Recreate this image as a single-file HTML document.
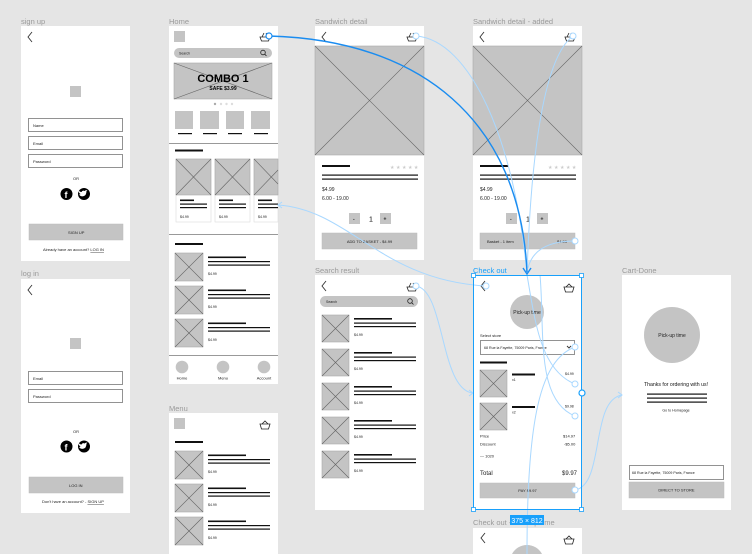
<!DOCTYPE html>
<html><head><meta charset="utf-8"><style>
html,body{margin:0;padding:0;background:#e5e5e5;width:752px;height:554px;overflow:hidden;}
svg{display:block;font-family:"Liberation Sans",sans-serif;}
.lbl{font-size:7.5px;fill:#9a9a9a}
.t{font-size:4px;fill:#222}
.t5{font-size:5px;fill:#222}
.ph{fill:#c4c4c4;stroke:#aaa;stroke-width:.6}
.xl{stroke:#666;stroke-width:.6}
.bar{fill:#111}
.in{fill:#fff;stroke:#777;stroke-width:.8}
.btn{fill:#c4c4c4;stroke:#bbb;stroke-width:.5}
.ch{fill:none;stroke:#333;stroke-width:.9}
.bk{fill:none;stroke:#222;stroke-width:.8}
.lc{fill:none;stroke:#a9d8ff;stroke-width:1}
.hc{fill:#fff;stroke:#a9d8ff;stroke-width:1}
</style></head><body>
<svg width="752" height="554" viewBox="0 0 752 554" xmlns="http://www.w3.org/2000/svg">
<rect width="752" height="554" fill="#e5e5e5"/>

<text class="lbl" x="21" y="24">sign up</text>
<text class="lbl" x="169" y="24">Home</text>
<text class="lbl" x="315" y="24">Sandwich detail</text>
<text class="lbl" x="473" y="24">Sandwich detail - added</text>
<text class="lbl" x="21" y="276">log in</text>
<text class="lbl" x="169" y="411">Menu</text>
<text class="lbl" x="315" y="273">Search result</text>
<text x="473" y="273" style="font-size:7.5px;fill:#18a0fb">Check out</text>
<text class="lbl" x="622" y="273">Cart-Done</text>
<text class="lbl" x="473" y="525">Check out - Pick-up time</text>

<!-- SIGN UP -->
<rect x="21" y="26" width="109" height="235" fill="#fff"/>
<polyline class="ch" points="32,32 28,37 32,42"/>
<rect x="70" y="86" width="11" height="11" fill="#c4c4c4"/>
<rect class="in" x="28.5" y="118.5" width="94" height="13"/><text class="t" x="33" y="127">Name</text>
<rect class="in" x="28.5" y="136.5" width="94" height="13"/><text class="t" x="33" y="145">Email</text>
<rect class="in" x="28.5" y="154.5" width="94" height="13"/><text class="t" x="33" y="163">Password</text>
<text class="t" x="73" y="180">OR</text>
<circle cx="66.5" cy="194" r="6" fill="#000"/><text x="64.5" y="198" style="font-size:9px;fill:#fff;font-weight:bold">f</text>
<circle cx="84" cy="194" r="6" fill="#000"/><path d="M80.5,196 q3,1 5,-1 q1,-2 1,-4 l1,-1 q-2,0 -3,1 q-2,-1 -3,1 q-2,0 -3,-2 q0,3 2,4 q-1,1 -2,0z" fill="#fff"/>
<rect class="btn" x="29" y="224" width="94" height="16"/><text class="t" x="68" y="234">SIGN UP</text>
<text class="t" x="43" y="251">Already have an account? <tspan text-decoration="underline">LOG IN</tspan></text>

<!-- LOG IN -->
<rect x="21" y="279" width="109" height="234" fill="#fff"/>
<polyline class="ch" points="32,285 28,290 32,295"/>
<rect x="70" y="338" width="11" height="11" fill="#c4c4c4"/>
<rect class="in" x="28.5" y="371.5" width="94" height="13"/><text class="t" x="33" y="380">Email</text>
<rect class="in" x="28.5" y="389.5" width="94" height="13"/><text class="t" x="33" y="398">Password</text>
<text class="t" x="73" y="433">OR</text>
<circle cx="66.5" cy="446.5" r="6" fill="#000"/><text x="64.5" y="450.5" style="font-size:9px;fill:#fff;font-weight:bold">f</text>
<circle cx="84" cy="446.5" r="6" fill="#000"/><path d="M80.5,448.5 q3,1 5,-1 q1,-2 1,-4 l1,-1 q-2,0 -3,1 q-2,-1 -3,1 q-2,0 -3,-2 q0,3 2,4 q-1,1 -2,0z" fill="#fff"/>
<rect class="btn" x="29" y="477" width="94" height="16"/><text class="t" x="69" y="487">LOG IN</text>
<text class="t" x="42" y="503">Don't have an account? - <tspan text-decoration="underline">SIGN UP</tspan></text>

<!-- HOME -->
<rect x="169" y="26" width="109" height="358" fill="#fff"/>
<rect x="174" y="31" width="11" height="11" fill="#c4c4c4"/>
<path class="bk" d="M260,37 h10 l-1.5,4 h-7z M262,37 l2,-4 M268,37 l-2,-4"/>
<rect x="174" y="48" width="98" height="10" rx="5" fill="#c4c4c4"/><text class="t" x="179" y="54.5" style="font-size:3.5px">Search</text>
<circle cx="263" cy="52.5" r="2.3" fill="none" stroke="#222" stroke-width=".8"/><line x1="264.7" y1="54.2" x2="266.5" y2="56" stroke="#222" stroke-width=".8"/>
<rect class="ph" x="174" y="63" width="98" height="36"/><line class="xl" x1="174" y1="63" x2="272" y2="99"/><line class="xl" x1="272" y1="63" x2="174" y2="99"/>
<text x="223" y="82" text-anchor="middle" style="font-size:11px;font-weight:bold;fill:#000">COMBO 1</text>
<text x="223" y="90" text-anchor="middle" style="font-size:5px;font-weight:bold;fill:#000">SAFE $3.99</text>
<circle cx="215" cy="104" r="1.2" fill="#aaa"/><circle cx="221" cy="104" r="1.2" fill="#ddd"/><circle cx="226.5" cy="104" r="1.2" fill="#ddd"/><circle cx="232" cy="104" r="1.2" fill="#ddd"/>
<rect x="175" y="111" width="18" height="18" fill="#c4c4c4"/><rect x="200" y="111" width="19" height="18" fill="#c4c4c4"/><rect x="226" y="111" width="18" height="18" fill="#c4c4c4"/><rect x="251" y="111" width="19" height="18" fill="#c4c4c4"/>
<rect class="bar" x="178" y="133" width="14" height="1.2"/><rect class="bar" x="203" y="133" width="14" height="1.2"/><rect class="bar" x="228" y="133" width="14" height="1.2"/><rect class="bar" x="254" y="133" width="14" height="1.2"/>
<rect x="169" y="143" width="109" height="1" fill="#999"/>
<rect class="bar" x="175" y="149.5" width="28" height="2"/>
<rect x="176" y="159" width="35" height="63" fill="#fff" stroke="#ddd" stroke-width=".6"/><rect class="ph" x="176" y="159" width="35" height="36"/><line class="xl" x1="176" y1="159" x2="211" y2="195"/><line class="xl" x1="211" y1="159" x2="176" y2="195"/>
<rect class="bar" x="180" y="199.5" width="14" height="1.6"/><rect class="bar" x="180" y="203.5" width="27" height="1.2"/><rect class="bar" x="180" y="207" width="27" height="1.2"/><text class="t" x="180" y="218" style="font-size:3.5px">$4.99</text>
<rect x="215" y="159" width="35" height="63" fill="#fff" stroke="#ddd" stroke-width=".6"/><rect class="ph" x="215" y="159" width="35" height="36"/><line class="xl" x1="215" y1="159" x2="250" y2="195"/><line class="xl" x1="250" y1="159" x2="215" y2="195"/>
<rect class="bar" x="219" y="199.5" width="14" height="1.6"/><rect class="bar" x="219" y="203.5" width="27" height="1.2"/><rect class="bar" x="219" y="207" width="27" height="1.2"/><text class="t" x="219" y="218" style="font-size:3.5px">$4.99</text>
<rect x="254" y="159" width="24" height="63" fill="#fff" stroke="#ddd" stroke-width=".6"/><rect class="ph" x="254" y="159" width="24" height="36"/><line class="xl" x1="254" y1="159" x2="278" y2="184"/><line class="xl" x1="278" y1="170" x2="254" y2="195"/>
<rect class="bar" x="258" y="199.5" width="14" height="1.6"/><rect class="bar" x="258" y="203.5" width="20" height="1.2"/><rect class="bar" x="258" y="207" width="20" height="1.2"/><text class="t" x="258" y="218" style="font-size:3.5px">$4.99</text>
<rect x="169" y="234" width="109" height="1" fill="#999"/>
<rect class="bar" x="175" y="243" width="28" height="2"/>
<rect class="ph" x="175" y="253" width="28" height="28"/><line class="xl" x1="175" y1="253" x2="203" y2="281"/><line class="xl" x1="203" y1="253" x2="175" y2="281"/>
<rect class="bar" x="208" y="256.5" width="38" height="1.6"/><rect class="bar" x="208" y="261" width="62" height="1.2"/><rect class="bar" x="208" y="264.5" width="62" height="1.2"/><text class="t" x="208" y="275" style="font-size:3.5px">$4.99</text>
<rect class="ph" x="175" y="286" width="28" height="28"/><line class="xl" x1="175" y1="286" x2="203" y2="314"/><line class="xl" x1="203" y1="286" x2="175" y2="314"/>
<rect class="bar" x="208" y="289.5" width="38" height="1.6"/><rect class="bar" x="208" y="294" width="62" height="1.2"/><rect class="bar" x="208" y="297.5" width="62" height="1.2"/><text class="t" x="208" y="308" style="font-size:3.5px">$4.99</text>
<rect class="ph" x="175" y="319" width="28" height="28"/><line class="xl" x1="175" y1="319" x2="203" y2="347"/><line class="xl" x1="203" y1="319" x2="175" y2="347"/>
<rect class="bar" x="208" y="322.5" width="38" height="1.6"/><rect class="bar" x="208" y="327" width="62" height="1.2"/><rect class="bar" x="208" y="330.5" width="62" height="1.2"/><text class="t" x="208" y="341" style="font-size:3.5px">$4.99</text>
<rect x="169" y="355" width="109" height="1" fill="#999"/>
<circle cx="182" cy="367" r="6.3" fill="#c4c4c4"/><circle cx="223" cy="367" r="6.3" fill="#c4c4c4"/><circle cx="264" cy="367" r="6.3" fill="#c4c4c4"/>
<text class="t" x="182" y="379.5" text-anchor="middle">Home</text><text class="t" x="223" y="379.5" text-anchor="middle">Menu</text><text class="t" x="264" y="379.5" text-anchor="middle">Account</text>

<!-- MENU -->
<rect x="169" y="413" width="109" height="141" fill="#fff"/>
<rect x="174" y="418" width="11" height="11" fill="#c4c4c4"/>
<path class="bk" d="M260,424 h10 l-1.5,5 h-7z M262,424 l3,-3 l3,3"/>
<rect class="bar" x="175" y="441" width="28" height="2"/>
<rect class="ph" x="175" y="451" width="28" height="28"/><line class="xl" x1="175" y1="451" x2="203" y2="479"/><line class="xl" x1="203" y1="451" x2="175" y2="479"/>
<rect class="bar" x="208" y="454.5" width="38" height="1.6"/><rect class="bar" x="208" y="459" width="62" height="1.2"/><rect class="bar" x="208" y="462.5" width="62" height="1.2"/><text class="t" x="208" y="473" style="font-size:3.5px">$4.99</text>
<rect class="ph" x="175" y="484" width="28" height="28"/><line class="xl" x1="175" y1="484" x2="203" y2="512"/><line class="xl" x1="203" y1="484" x2="175" y2="512"/>
<rect class="bar" x="208" y="487.5" width="38" height="1.6"/><rect class="bar" x="208" y="492" width="62" height="1.2"/><rect class="bar" x="208" y="495.5" width="62" height="1.2"/><text class="t" x="208" y="506" style="font-size:3.5px">$4.99</text>
<rect class="ph" x="175" y="517" width="28" height="28"/><line class="xl" x1="175" y1="517" x2="203" y2="545"/><line class="xl" x1="203" y1="517" x2="175" y2="545"/>
<rect class="bar" x="208" y="520.5" width="38" height="1.6"/><rect class="bar" x="208" y="525" width="62" height="1.2"/><rect class="bar" x="208" y="528.5" width="62" height="1.2"/><text class="t" x="208" y="539" style="font-size:3.5px">$4.99</text>

<!-- SANDWICH DETAIL -->
<rect x="315" y="26" width="109" height="234" fill="#fff"/>
<polyline class="ch" points="326,32 322,37 326,42"/>
<path class="bk" d="M407,37 h10 l-1.5,4 h-7z M409,37 l2,-4 M415,37 l-2,-4"/>
<rect class="ph" x="315" y="46" width="109" height="109"/><line class="xl" x1="315" y1="46" x2="424" y2="155"/><line class="xl" x1="424" y1="46" x2="315" y2="155"/>
<rect class="bar" x="322" y="165" width="28" height="2"/>
<text x="390" y="169" style="font-size:5px;fill:#ccc;letter-spacing:1.5px">★★★★★</text>
<rect class="bar" x="322" y="174.5" width="96" height="1.2"/><rect class="bar" x="322" y="178.5" width="96" height="1.2"/>
<text class="t5" x="322" y="191">$4.99</text><text class="t5" x="322" y="200">6.00 - 19.00</text>
<rect x="349" y="213" width="11" height="11" fill="#c4c4c4"/><text class="t5" x="353" y="220.5" style="font-weight:bold">-</text>
<text x="369" y="221.5" style="font-size:7px">1</text>
<rect x="380" y="213" width="11" height="11" fill="#c4c4c4"/><text class="t5" x="383.5" y="220.5" style="font-weight:bold">+</text>
<rect class="btn" x="322" y="233" width="95" height="16"/><text class="t" x="369.5" y="243" text-anchor="middle">ADD TO BASKET - $4.99</text>

<!-- SANDWICH ADDED -->
<rect x="473" y="26" width="109" height="234" fill="#fff"/>
<polyline class="ch" points="484,32 480,37 484,42"/>
<path class="bk" d="M565,37 h10 l-1.5,4 h-7z M567,37 l2,-4 M573,37 l-2,-4"/>
<rect class="ph" x="473" y="46" width="109" height="109"/><line class="xl" x1="473" y1="46" x2="582" y2="155"/><line class="xl" x1="582" y1="46" x2="473" y2="155"/>
<rect class="bar" x="480" y="165" width="28" height="2"/>
<text x="548" y="169" style="font-size:5px;fill:#ccc;letter-spacing:1.5px">★★★★★</text>
<rect class="bar" x="480" y="174.5" width="96" height="1.2"/><rect class="bar" x="480" y="178.5" width="96" height="1.2"/>
<text class="t5" x="480" y="191">$4.99</text><text class="t5" x="480" y="200">6.00 - 19.00</text>
<rect x="506" y="213" width="11" height="11" fill="#c4c4c4"/><text class="t5" x="510" y="220.5" style="font-weight:bold">-</text>
<text x="526" y="221.5" style="font-size:7px">1</text>
<rect x="537" y="213" width="11" height="11" fill="#c4c4c4"/><text class="t5" x="540.5" y="220.5" style="font-weight:bold">+</text>
<rect class="btn" x="480" y="233" width="95" height="16"/><text class="t" x="487" y="243">Basket - 1 item</text><text class="t" x="557" y="243">$4.99</text>

<!-- SEARCH RESULT -->
<rect x="315" y="275" width="109" height="235" fill="#fff"/>
<polyline class="ch" points="326,281 322,286 326,291"/>
<path class="bk" d="M407,287 h10 l-1.5,4 h-7z M409,287 l2,-4 M415,287 l-2,-4"/>
<rect x="320" y="296" width="98" height="11" rx="5.5" fill="#c4c4c4"/><text class="t" x="326" y="303" style="font-size:3.5px">Search</text>
<circle cx="410" cy="301" r="2.3" fill="none" stroke="#222" stroke-width=".8"/><line x1="411.7" y1="302.7" x2="413.5" y2="304.5" stroke="#222" stroke-width=".8"/>
<rect class="ph" x="322" y="315" width="27" height="27"/><line class="xl" x1="322" y1="315" x2="349" y2="342"/><line class="xl" x1="349" y1="315" x2="322" y2="342"/>
<rect class="bar" x="354" y="318" width="38" height="1.6"/><rect class="bar" x="354" y="322.5" width="62" height="1.2"/><rect class="bar" x="354" y="326" width="62" height="1.2"/><text class="t" x="354" y="336" style="font-size:3.5px">$4.99</text>
<rect class="ph" x="322" y="349" width="27" height="27"/><line class="xl" x1="322" y1="349" x2="349" y2="376"/><line class="xl" x1="349" y1="349" x2="322" y2="376"/>
<rect class="bar" x="354" y="352" width="38" height="1.6"/><rect class="bar" x="354" y="356.5" width="62" height="1.2"/><rect class="bar" x="354" y="360" width="62" height="1.2"/><text class="t" x="354" y="370" style="font-size:3.5px">$4.99</text>
<rect class="ph" x="322" y="383" width="27" height="27"/><line class="xl" x1="322" y1="383" x2="349" y2="410"/><line class="xl" x1="349" y1="383" x2="322" y2="410"/>
<rect class="bar" x="354" y="386" width="38" height="1.6"/><rect class="bar" x="354" y="390.5" width="62" height="1.2"/><rect class="bar" x="354" y="394" width="62" height="1.2"/><text class="t" x="354" y="404" style="font-size:3.5px">$4.99</text>
<rect class="ph" x="322" y="417" width="27" height="27"/><line class="xl" x1="322" y1="417" x2="349" y2="444"/><line class="xl" x1="349" y1="417" x2="322" y2="444"/>
<rect class="bar" x="354" y="420" width="38" height="1.6"/><rect class="bar" x="354" y="424.5" width="62" height="1.2"/><rect class="bar" x="354" y="428" width="62" height="1.2"/><text class="t" x="354" y="438" style="font-size:3.5px">$4.99</text>
<rect class="ph" x="322" y="451" width="27" height="27"/><line class="xl" x1="322" y1="451" x2="349" y2="478"/><line class="xl" x1="349" y1="451" x2="322" y2="478"/>
<rect class="bar" x="354" y="454" width="38" height="1.6"/><rect class="bar" x="354" y="458.5" width="62" height="1.2"/><rect class="bar" x="354" y="462" width="62" height="1.2"/><text class="t" x="354" y="472" style="font-size:3.5px">$4.99</text>

<!-- CHECK OUT -->
<rect x="473" y="275" width="109" height="235" fill="#fff"/>
<polyline class="ch" points="485,281 481,286 485,291"/>
<path class="bk" d="M564,287 h10 l-1.5,5 h-7z M566,287 l3,-3 l3,3"/>
<circle cx="527" cy="312" r="17" fill="#c4c4c4"/><text class="t5" x="527" y="314" text-anchor="middle">Pick-up time</text>
<text class="t" x="480" y="337">Select store</text>
<rect class="in" x="480.5" y="340.5" width="94" height="14"/><text class="t" x="484" y="349" style="font-size:3.6px">68 Rue la Fayette, 75009 Paris, France</text>
<polyline class="ch" points="567,346 569,348 571,346"/>
<rect class="bar" x="480" y="361.5" width="27" height="2"/>
<rect class="ph" x="480" y="370" width="27" height="27"/><line class="xl" x1="480" y1="370" x2="507" y2="397"/><line class="xl" x1="507" y1="370" x2="480" y2="397"/>
<rect class="bar" x="512" y="373.5" width="23" height="2"/><text class="t" x="512" y="381" style="font-size:3.5px">x1</text><text class="t" x="565" y="375" style="font-size:3.5px">$4.99</text>
<rect class="ph" x="480" y="403" width="27" height="27"/><line class="xl" x1="480" y1="403" x2="507" y2="430"/><line class="xl" x1="507" y1="403" x2="480" y2="430"/>
<rect class="bar" x="512" y="406" width="23" height="2"/><text class="t" x="512" y="413.5" style="font-size:3.5px">x2</text><text class="t" x="565" y="407.5" style="font-size:3.5px">$9.98</text>
<text class="t" x="480" y="437.5">Price</text><text class="t" x="563" y="437.5">$14.97</text>
<text class="t" x="480" y="445.5">Discount</text><text class="t" x="564" y="445.5">-$5.00</text>
<text class="t" x="480" y="457.5">— 1020</text>
<text x="480" y="475" style="font-size:6px;fill:#222">Total</text><text x="562" y="475" style="font-size:6px;fill:#222">$9.97</text>
<rect class="btn" x="480" y="483" width="95" height="15"/><text class="t" x="527.5" y="492" text-anchor="middle">PAY $9.97</text>

<!-- CART DONE -->
<rect x="622" y="275" width="109" height="235" fill="#fff"/>
<circle cx="672" cy="335" r="28" fill="#c4c4c4"/><text class="t5" x="672" y="337" text-anchor="middle">Pick-up time</text>
<text x="676" y="386" text-anchor="middle" style="font-size:5.2px;fill:#111">Thanks for ordering with us!</text>
<rect class="bar" x="647" y="393.5" width="60" height="1.2"/><rect class="bar" x="647" y="397.5" width="60" height="1.2"/><rect class="bar" x="647" y="401.5" width="60" height="1.2"/>
<text class="t" x="676" y="411.5" text-anchor="middle" style="font-size:3.6px">Go to Homepage</text>
<rect class="in" x="629.5" y="465.5" width="94" height="14"/><text class="t" x="632" y="474" style="font-size:3.6px">68 Rue la Fayette, 75009 Paris, France</text>
<rect class="btn" x="629" y="482" width="95" height="16"/><text class="t" x="676.5" y="491.5" text-anchor="middle">DIRECT TO STORE</text>

<!-- CHECK OUT bottom -->
<rect x="473" y="528" width="109" height="26" fill="#fff"/>
<polyline class="ch" points="485,533 481,538 485,543"/>
<path class="bk" d="M564,539 h10 l-1.5,5 h-7z M566,539 l3,-3 l3,3"/>
<path d="M512,554 A17,17 0 0 1 542,554 Z" fill="#c4c4c4"/>

<!-- light connectors -->
<path class="lc" d="M416,36 C 470,40 515,140 527,275"/>
<path class="lc" d="M573,36 C 540,60 530,180 527,275"/>
<path class="lc" d="M575,241 C 545,241 532,252 528,268"/>
<path class="lc" d="M278,205 C 350,210 380,280 486,286"/>
<path class="lc" d="M416,286 C 445,290 440,390 473,393"/>
<path class="lc" d="M575,347 C 540,360 527,420 527,554"/>
<path class="lc" d="M575,384 C 540,370 535,320 527,275"/>
<path class="lc" d="M575,416 C 535,400 545,330 540,275"/>
<path class="lc" d="M575,490 C 605,485 590,400 622,395"/>
<circle class="hc" cx="416" cy="36" r="3"/><circle class="hc" cx="573" cy="36" r="3"/><circle class="hc" cx="575" cy="241" r="3"/>
<circle class="hc" cx="416" cy="286" r="3"/><circle class="hc" cx="486" cy="286" r="3"/><circle class="hc" cx="575" cy="347" r="3"/>
<circle class="hc" cx="575" cy="384" r="3"/><circle class="hc" cx="575" cy="416" r="3"/><circle class="hc" cx="575" cy="490" r="3"/>
<polyline class="lc" points="282,202 278,205 282,208"/>
<polyline class="lc" points="469,390 473,393 469,396"/>
<polyline class="lc" points="618,392 622,395 618,398"/>

<!-- selection -->
<rect x="473.5" y="275.5" width="108" height="234" fill="none" stroke="#18a0fb" stroke-width="1"/>
<rect x="471.5" y="273.5" width="4" height="4" fill="#fff" stroke="#18a0fb" stroke-width=".8"/>
<rect x="579.5" y="273.5" width="4" height="4" fill="#fff" stroke="#18a0fb" stroke-width=".8"/>
<rect x="471.5" y="507.5" width="4" height="4" fill="#fff" stroke="#18a0fb" stroke-width=".8"/>
<rect x="579.5" y="507.5" width="4" height="4" fill="#fff" stroke="#18a0fb" stroke-width=".8"/>
<circle cx="582" cy="393" r="3" fill="#fff" stroke="#18a0fb" stroke-width="1.2"/>
<rect x="510" y="515" width="34" height="10" fill="#18a0fb"/>
<text x="527" y="523" text-anchor="middle" style="font-size:7px;fill:#fff">375 × 812</text>

<!-- main dark connector -->
<path d="M269,36 C 420,40 520,120 527,272" fill="none" stroke="#1a8cf0" stroke-width="1.4"/>
<polyline points="523,268 527,274 531,268" fill="none" stroke="#1a8cf0" stroke-width="1.4"/>
<circle cx="269" cy="36" r="3" fill="#fff" stroke="#1a8cf0" stroke-width="1.2"/>
</svg>
</body></html>
